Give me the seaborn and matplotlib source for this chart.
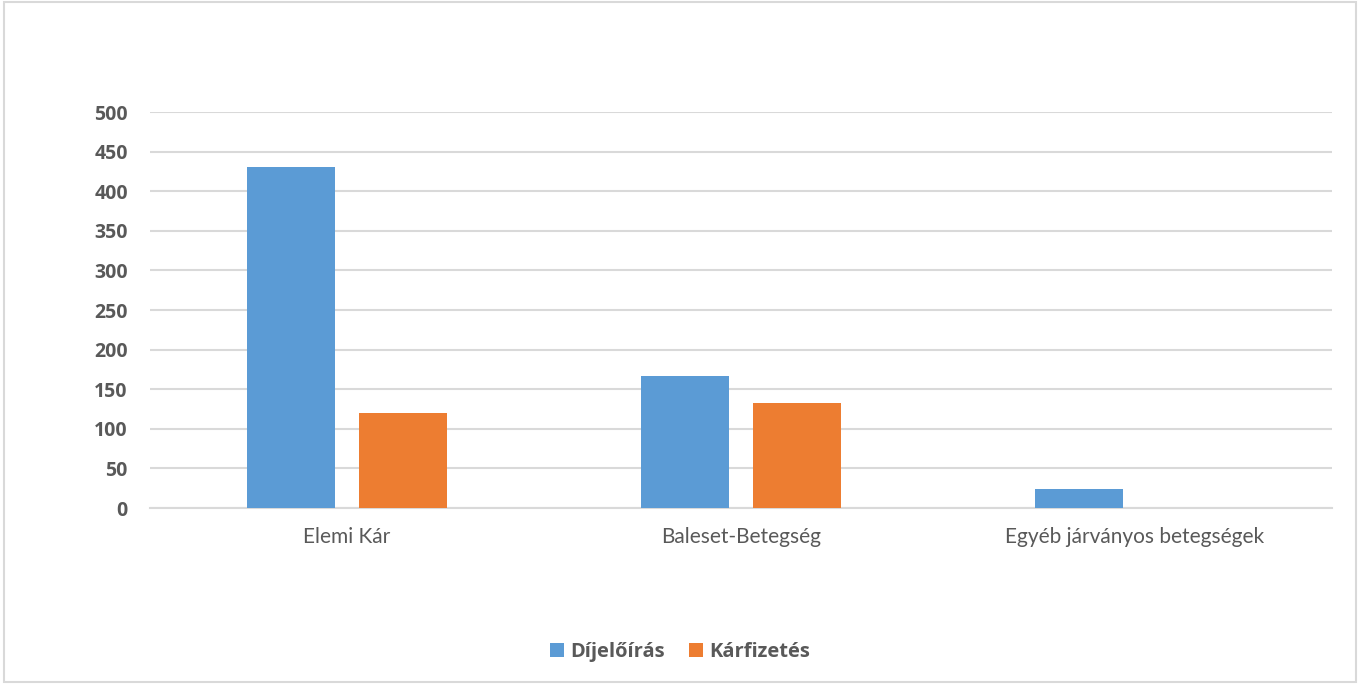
import matplotlib
matplotlib.use("Agg")
import matplotlib.pyplot as plt
from matplotlib.patches import Rectangle
import pandas as pd
import seaborn as sns

categories = ["Elemi Kár", "Baleset-Betegség", "Egyéb járványos betegségek"]
series = ["Díjelőírás", "Kárfizetés"]
dijeloiras = [431, 167, 24]
karfizetes = [120, 133, 0]
y_ticks = list(range(0, 501, 50))

df = pd.DataFrame({
    "kategoria": categories * 2,
    "sorozat": [series[0]] * 3 + [series[1]] * 3,
    "ertek": dijeloiras + karfizetes,
})

sns.set_style("white")
plt.rcParams["font.family"] = ["Lato", "DejaVu Sans"]
bold_family = ["Open Sans", "DejaVu Sans"]
text_color = "#595959"
grid_color = "#D9D9D9"

fig = plt.figure(figsize=(13.6, 6.84), dpi=100)
ax = fig.add_axes([150 / 1360, 1 - 508 / 684, (1332 - 150) / 1360, 396 / 684])

sns.barplot(data=df, x="kategoria", y="ertek", hue="sorozat", order=categories,
            hue_order=series, palette=["#5B9BD5", "#ED7D31"], width=0.57, gap=0.21,
            linewidth=0, saturation=1, ax=ax, zorder=3)

ax.set_ylim(0, 500)
ax.set_xlim(-0.5, 2.5)
ax.set_yticks(y_ticks)
ax.set_yticklabels([str(v) for v in y_ticks], fontweight="bold", fontsize=14,
                   family=bold_family)
ax.yaxis.grid(True, color=grid_color, linewidth=1.5, zorder=0)
for s in ["top", "right", "left"]:
    ax.spines[s].set_visible(False)
ax.spines["bottom"].set_color(grid_color)
ax.spines["bottom"].set_linewidth(1.5)
ax.tick_params(axis="both", length=0, colors=text_color)
ax.tick_params(axis="y", pad=16)
ax.tick_params(axis="x", pad=14, labelsize=15)
ax.set_xlabel("")
ax.set_ylabel("")

handles, labels = ax.get_legend_handles_labels()
ax.legend(handles, labels, loc="center", bbox_to_anchor=(0.5, 1 - 652 / 684),
          bbox_transform=fig.transFigure, ncol=2, frameon=False, handlelength=0.7,
          handleheight=0.7, handletextpad=0.3, columnspacing=1.2,
          prop={"weight": "bold", "size": 14.5, "family": bold_family},
          labelcolor=text_color)

fig.patches.append(Rectangle((0.003, 0.003), 0.994, 0.994, transform=fig.transFigure,
                             fill=False, edgecolor=grid_color, linewidth=1.5))

fig.savefig("out.png", dpi=100)
